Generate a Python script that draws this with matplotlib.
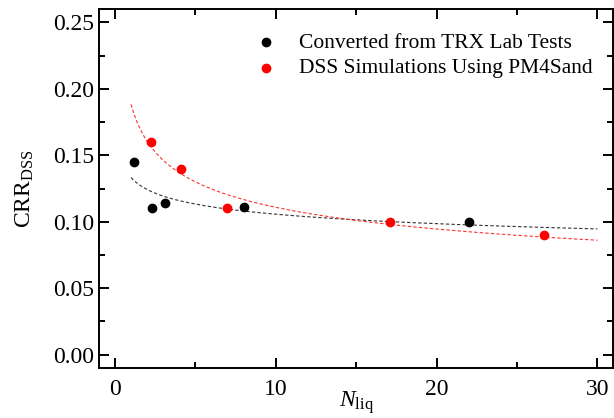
import numpy as np
import matplotlib
matplotlib.use("Agg")
import matplotlib.pyplot as plt
from matplotlib.ticker import MultipleLocator

plt.rcParams['font.family'] = ['Liberation Serif', 'DejaVu Serif']
plt.rcParams['mathtext.fontset'] = 'custom'
plt.rcParams['mathtext.rm'] = 'Liberation Serif'
plt.rcParams['mathtext.it'] = 'Liberation Serif:italic'

# data
trx_n = [1.2, 2.3, 3.1, 8.0, 22.0]
trx_crr = [0.145, 0.110, 0.114, 0.111, 0.0996]
dss_n = [2.25, 4.1, 7.0, 17.1, 26.7]
dss_crr = [0.160, 0.140, 0.110, 0.100, 0.090]

# power law fits  CRR = a * N^b
def powerfit(x, y):
    b, loga = np.polyfit(np.log(x), np.log(y), 1)
    return np.exp(loga), b

xfit = np.linspace(1, 30, 200)
a1, b1 = powerfit(trx_n, trx_crr)
a2, b2 = powerfit(dss_n, dss_crr)

fig = plt.figure(figsize=(6.14, 4.18), dpi=100)
ax = fig.add_axes([0.161, 0.12, 0.838, 0.858])

ax.plot(xfit, a1 * xfit ** b1, ls=(0, (3, 2)), color='#333333', lw=0.8)
ax.plot(xfit, a2 * xfit ** b2, ls=(0, (3, 2)), color='#ff3030', lw=0.8)
ax.scatter(trx_n, trx_crr, s=36, color='black', zorder=3, label='Converted from TRX Lab Tests')
ax.scatter(dss_n, dss_crr, s=36, color='red', zorder=3, label='DSS Simulations Using PM4Sand')

ax.set_xlim(-1, 31)
ax.set_ylim(-0.01, 0.26)
ax.xaxis.set_major_locator(MultipleLocator(10))
ax.xaxis.set_minor_locator(MultipleLocator(5))
ax.yaxis.set_major_locator(MultipleLocator(0.05))
ax.yaxis.set_minor_locator(MultipleLocator(0.025))
ax.yaxis.set_major_formatter(matplotlib.ticker.FormatStrFormatter('%.2f'))
ax.tick_params(which='both', direction='in', top=True, right=True, width=1.4, labelsize=17)
ax.tick_params(which='major', length=7)
ax.tick_params(which='minor', length=4)
ax.tick_params(axis='x', pad=8)
for s in ax.spines.values():
    s.set_linewidth(1.4)

ax.set_xlabel(r'$N_{\mathrm{liq}}$', fontsize=17, labelpad=-8)
ax.set_ylabel(r'$\mathrm{CRR}_{\mathrm{DSS}}$', fontsize=17, labelpad=12)

ax.legend(loc='upper right', bbox_to_anchor=(1.005, 1.0), frameon=False, fontsize=15.5,
          handletextpad=0.5, labelspacing=0.25, borderpad=0.6)

fig.savefig('out.png', dpi=100)
